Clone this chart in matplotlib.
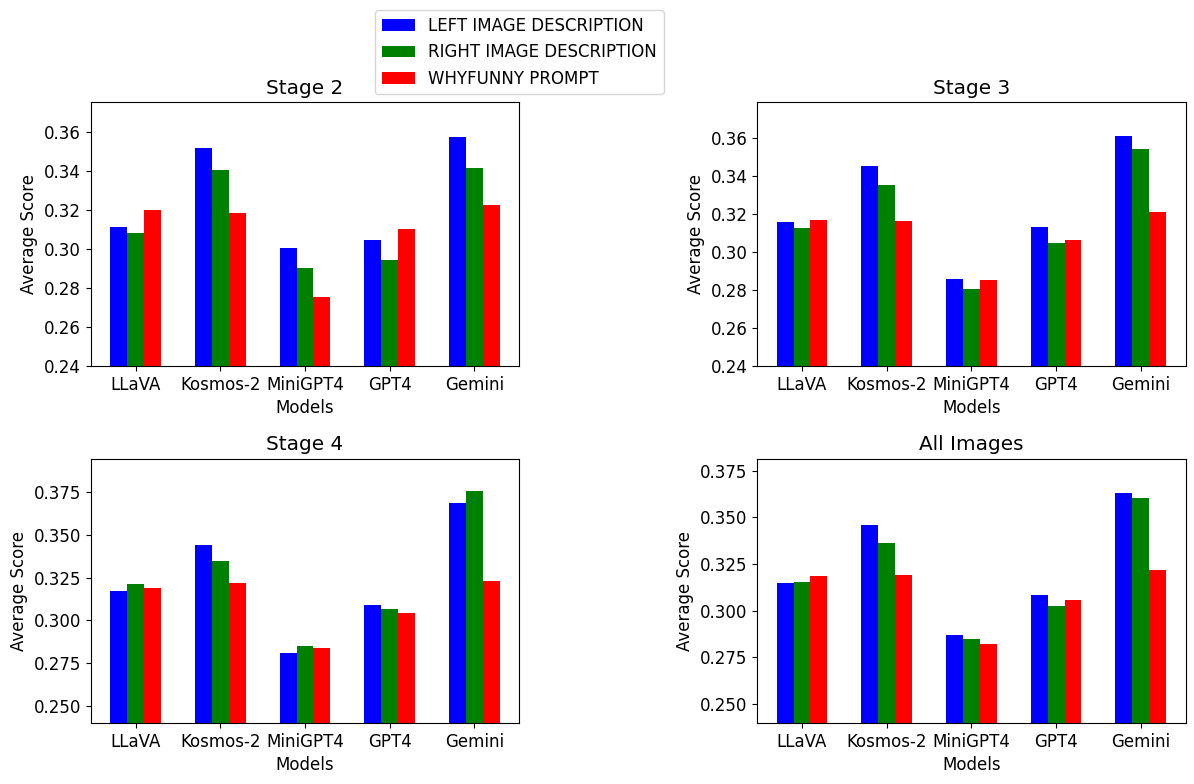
import numpy as np
import matplotlib
matplotlib.use("Agg")
import matplotlib.pyplot as plt

plt.rcParams['font.size'] = 12

models = ['LLaVA', 'Kosmos-2', 'MiniGPT4', 'GPT4', 'Gemini']
series_names = ['LEFT IMAGE DESCRIPTION', 'RIGHT IMAGE DESCRIPTION', 'WHYFUNNY PROMPT']
colors = ['blue', 'green', 'red']

# scores per stage: left, right, whyfunny
stage2_left = [0.3115, 0.3520, 0.3007, 0.3048, 0.3576]
stage2_right = [0.3084, 0.3407, 0.2904, 0.2945, 0.3417]
stage2_why = [0.3202, 0.3186, 0.2756, 0.3104, 0.3227]

stage3_left = [0.3159, 0.3454, 0.2858, 0.3132, 0.3612]
stage3_right = [0.3127, 0.3354, 0.2805, 0.3048, 0.3544]
stage3_why = [0.3169, 0.3164, 0.2852, 0.3064, 0.3211]

stage4_left = [0.3173, 0.3442, 0.2810, 0.3091, 0.3688]
stage4_right = [0.3214, 0.3348, 0.2851, 0.3067, 0.3758]
stage4_why = [0.3190, 0.3220, 0.2839, 0.3044, 0.3231]

all_left = [0.3149, 0.3460, 0.2870, 0.3085, 0.3632]
all_right = [0.3155, 0.3364, 0.2849, 0.3026, 0.3605]
all_why = [0.3187, 0.3192, 0.2822, 0.3058, 0.3219]

panels = [
    ('Stage 2', [stage2_left, stage2_right, stage2_why]),
    ('Stage 3', [stage3_left, stage3_right, stage3_why]),
    ('Stage 4', [stage4_left, stage4_right, stage4_why]),
    ('All Images', [all_left, all_right, all_why]),
]

fig, axes = plt.subplots(2, 2, figsize=(11.94, 7.84), dpi=100)
plt.subplots_adjust(left=0.076, right=0.993, top=0.87, bottom=0.078, wspace=0.555, hspace=0.35)

x = np.arange(len(models))
width = 0.2

for ax, (title, data) in zip(axes.flat, panels):
    for i, vals in enumerate(data):
        ax.bar(x + (i - 1) * width, vals, width, label=series_names[i], color=colors[i])
    ax.set_title(title)
    ax.set_xlabel('Models')
    ax.set_ylabel('Average Score')
    ax.set_xticks(x)
    ax.set_xticklabels(models)
    top = max(max(v) for v in data)
    ax.set_ylim(0.24, top * 1.05)

axes[0, 0].legend(loc='upper center', bbox_to_anchor=(1.0, 1.378))

plt.savefig('out.png')
